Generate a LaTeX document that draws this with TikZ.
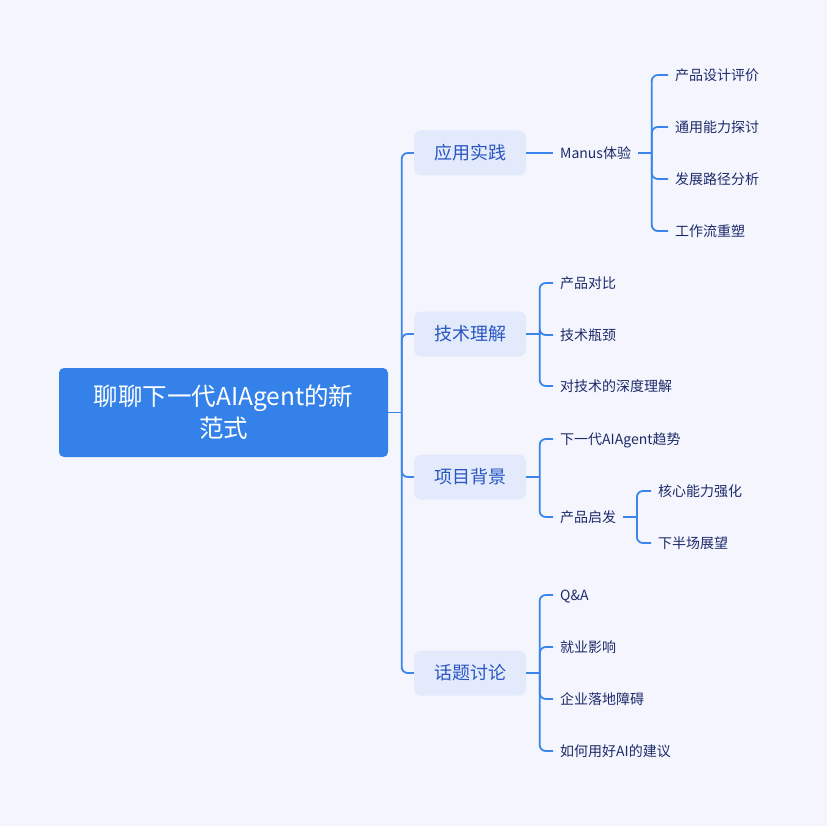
\documentclass[tikz,border=0pt]{standalone}
\usepackage{fontspec}
\setmainfont{Noto Sans CJK SC}
\definecolor{mmback}{HTML}{F5F6FD}
\definecolor{mmblue}{HTML}{3381E9}
\definecolor{mmline}{HTML}{3A84EC}
\definecolor{mmpale}{HTML}{E2EAFC}
\definecolor{mmtopic}{HTML}{2A56C2}
\definecolor{mmnavy}{HTML}{1D2B6B}
\begin{document}
\begin{tikzpicture}[x=1pt, y=-1pt,
  rootbox/.style={fill=mmblue, text=white, rounded corners=5pt, minimum width=329pt,
    minimum height=89pt, align=center, font=\fontsize{24.5}{32}\selectfont},
  topicbox/.style={fill=mmpale, text=mmtopic, rounded corners=7pt, minimum width=112pt,
    minimum height=45pt, font=\fontsize{18}{20}\selectfont, text height=1.25em, text depth=0em},
  leaf/.style={anchor=west, text=mmnavy, inner xsep=7pt, inner ysep=3pt,
    font=\fontsize{14}{16}\selectfont, text height=1.15em, text depth=0em},
  link/.style={draw=mmline, line width=1.8pt, rounded corners=6pt}]
% Page
\fill[mmback] (0,0) rectangle (827,826);
\useasboundingbox (0,0) rectangle (827,826);

% Root
\node[rootbox] (root) at (223.5,412.5) {聊聊下一代AIAgent的新\\范式};

% Topics
\node[topicbox] (apply) at (470,153) {应用实践};
\node[topicbox] (tech) at (470,334) {技术理解};
\node[topicbox] (bg) at (470,477) {项目背景};
\node[topicbox] (talk) at (470,673) {话题讨论};

% Leaves
\node[leaf] (manus) at (553,153) {Manus体验};
\node[leaf] (m1) at (668,75) {产品设计评价};
\node[leaf] (m2) at (668,127) {通用能力探讨};
\node[leaf] (m3) at (668,179) {发展路径分析};
\node[leaf] (m4) at (668,231) {工作流重塑};

\node[leaf] (t1) at (553,283) {产品对比};
\node[leaf] (t2) at (553,335) {技术瓶颈};
\node[leaf] (t3) at (553,386) {对技术的深度理解};

\node[leaf] (b1) at (553,439) {下一代AIAgent趋势};
\node[leaf] (b2) at (553,517) {产品启发};
\node[leaf] (b21) at (651,491) {核心能力强化};
\node[leaf] (b22) at (651,543) {下半场展望};

\node[leaf] (q1) at (553,595) {Q\&A};
\node[leaf] (q2) at (553,647) {就业影响};
\node[leaf] (q3) at (553,699) {企业落地障碍};
\node[leaf] (q4) at (553,751) {如何用好AI的建议};

% Links
\draw[link] (root.east) -- ++(13.5,0) coordinate (rj);
\foreach \c in {apply,tech,bg,talk}
  \draw[link] (rj) |- (\c.west);

\draw[link] (apply.east) -- (manus.west);
\draw[link] (manus.east) -- ++(13.5,0) coordinate (mj);
\foreach \c in {m1,m2,m3,m4}
  \draw[link] (mj) |- (\c.west);

\draw[link] (tech.east) -- ++(13.5,0) coordinate (tj);
\foreach \c in {t1,t2,t3}
  \draw[link] (tj) |- (\c.west);

\draw[link] (bg.east) -- ++(13.5,0) coordinate (bj);
\foreach \c in {b1,b2}
  \draw[link] (bj) |- (\c.west);
\draw[link] (b2.east) -- ++(13.5,0) coordinate (pj);
\foreach \c in {b21,b22}
  \draw[link] (pj) |- (\c.west);

\draw[link] (talk.east) -- ++(13.5,0) coordinate (qj);
\foreach \c in {q1,q2,q3,q4}
  \draw[link] (qj) |- (\c.west);
\end{tikzpicture}
\end{document}
